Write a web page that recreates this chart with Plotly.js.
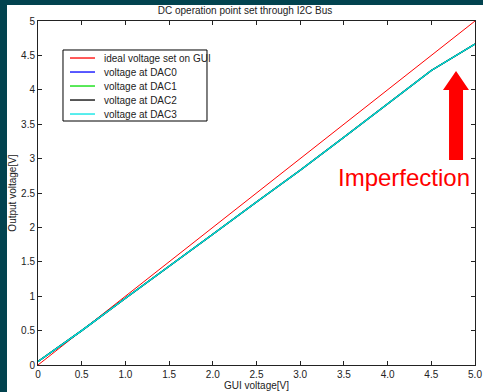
<!DOCTYPE html>
<html>
<head>
<meta charset="utf-8">
<script src="https://cdn.plot.ly/plotly-3.0.1.min.js"></script>
<style>
  html, body { margin: 0; padding: 0; background: #02434f; width: 483px; height: 392px; overflow: hidden; }
  #chart { position: absolute; left: 7px; top: 5px; width: 476px; height: 387px; background: #ffffff; }
</style>
</head>
<body>
<div id="chart"></div>
<script>
// GUI voltage set points [V]
const guiVoltage = [0, 0.5, 1.0, 1.5, 2.0, 2.5, 3.0, 3.5, 4.0, 4.5, 5.0];
// ideal voltage set on GUI
const idealVoltage = [0, 0.5, 1.0, 1.5, 2.0, 2.5, 3.0, 3.5, 4.0, 4.5, 5.0];
// measured voltages at DACs (lines overlap almost perfectly)
const dac0 = [0.05, 0.50, 0.97, 1.43, 1.90, 2.37, 2.83, 3.31, 3.79, 4.28, 4.665];
const dac1 = [0.05, 0.50, 0.97, 1.43, 1.90, 2.37, 2.83, 3.31, 3.79, 4.28, 4.665];
const dac2 = [0.05, 0.50, 0.97, 1.43, 1.90, 2.37, 2.83, 3.31, 3.79, 4.28, 4.665];
const dac3 = [0.05, 0.50, 0.97, 1.43, 1.90, 2.37, 2.83, 3.31, 3.79, 4.28, 4.665];

const seriesNames = ['ideal voltage set on GUI', 'voltage at DAC0', 'voltage at DAC1', 'voltage at DAC2', 'voltage at DAC3'];
const seriesColors = ['#ff0000', '#0000ff', '#00dd00', '#000000', '#00e5e5'];
const seriesValues = [idealVoltage, dac0, dac1, dac2, dac3];

const xTickVals = [0, 0.5, 1.0, 1.5, 2.0, 2.5, 3.0, 3.5, 4.0, 4.5, 5.0];
const xTickText = ['0', '0.5', '1.0', '1.5', '2.0', '2.5', '3.0', '3.5', '4.0', '4.5', '5.0'];
const yTickVals = [0, 0.5, 1, 1.5, 2, 2.5, 3, 3.5, 4, 4.5, 5];
const yTickText = ['0', '0.5', '1', '1.5', '2', '2.5', '3', '3.5', '4', '4.5', '5'];

const traces = seriesValues.map((vals, i) => ({
  type: 'scatter',
  mode: 'lines',
  x: guiVoltage,
  y: vals,
  name: seriesNames[i],
  showlegend: false,
  line: { color: seriesColors[i], width: i === 0 ? 1 : 1.3 }
}));

const font = { family: 'Liberation Sans, Arial, sans-serif', size: 10, color: '#222' };

const axisCommon = {
  showgrid: false,
  zeroline: false,
  showline: true,
  linecolor: '#222',
  linewidth: 1,
  mirror: 'allticks',
  ticks: 'inside',
  ticklen: 4,
  tickcolor: '#222',
  tickfont: font
};

// Compact Matlab-style legend box (paper coords, relative to plot area)
const legendBox = { x0: 0.0572, x1: 0.3867, y0: 0.7093, y1: 0.9157 };
const legendRowTop = 0.8924, legendRowStep = 0.0407;
const legendShapes = [{
  type: 'rect', xref: 'paper', yref: 'paper',
  x0: legendBox.x0, x1: legendBox.x1, y0: legendBox.y0, y1: legendBox.y1,
  fillcolor: '#ffffff', line: { color: '#000000', width: 1 }, layer: 'above'
}];
const legendAnnots = [];
seriesNames.forEach((name, i) => {
  const yy = legendRowTop - i * legendRowStep;
  legendShapes.push({
    type: 'line', xref: 'paper', yref: 'paper',
    x0: 0.0732, x1: 0.1304, y0: yy, y1: yy,
    line: { color: seriesColors[i], width: 1.3 }, layer: 'above'
  });
  legendAnnots.push({
    xref: 'paper', yref: 'paper', x: 0.1465, y: yy,
    text: name, showarrow: false, xanchor: 'left', yanchor: 'middle',
    font: font
  });
});

const layout = {
  width: 476,
  height: 387,
  paper_bgcolor: '#ffffff',
  plot_bgcolor: '#ffffff',
  margin: { l: 31, r: 8, t: 16, b: 27 },
  font: font,
  title: { text: 'DC operation point set through I2C Bus', font: { ...font, size: 10 }, x: 0.5, xanchor: 'center', y: 0.987, yanchor: 'middle' },
  xaxis: Object.assign({}, axisCommon, {
    range: [0, 5],
    tickvals: xTickVals,
    ticktext: xTickText,
    title: { text: 'GUI voltage[V]', font: font, standoff: 2 }
  }),
  yaxis: Object.assign({}, axisCommon, {
    range: [0, 5],
    tickvals: yTickVals,
    ticktext: yTickText,
    title: { text: 'Output voltage[V]', font: font, standoff: 4 }
  }),
  showlegend: false,
  shapes: [{
    type: 'path', xref: 'x', yref: 'y',
    path: 'M 4.703 2.98 L 4.863 2.98 L 4.863 3.997 L 4.931 3.997 L 4.783 4.273 L 4.634 3.997 L 4.703 3.997 Z',
    fillcolor: '#ff0000', line: { width: 0 }
  }].concat(legendShapes),
  annotations: [{
    x: 4.19, y: 2.73, xref: 'x', yref: 'y',
    text: 'Imperfection', showarrow: false,
    font: { family: 'Liberation Sans, Arial, sans-serif', size: 24, color: '#ff0000' },
    xanchor: 'center', yanchor: 'middle'
  }].concat(legendAnnots)
};

Plotly.newPlot('chart', traces, layout, { displayModeBar: false, staticPlot: true });
</script>
</body>
</html>
